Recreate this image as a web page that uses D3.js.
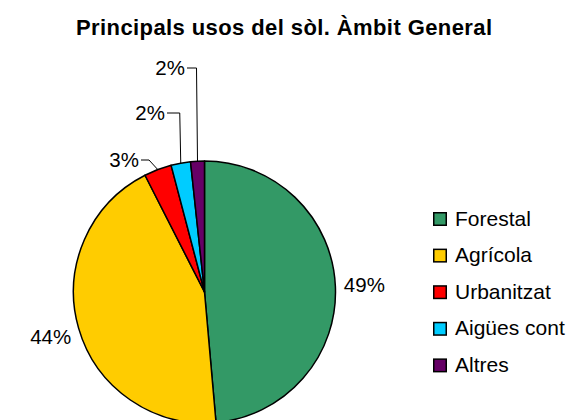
<!DOCTYPE html>
<html>
<head>
  <meta charset="utf-8">
  <title>Principals usos del sòl. Àmbit General</title>
  <style>
    body { margin: 0; background: #fff; }
    text { font-family: 'Liberation Sans', Arial, sans-serif; fill: #000; }
  </style>
</head>
<body>
  <div id="chart-container"></div>
  <script src="https://d3js.org/d3.v7.min.js"></script>
  <script>
    // data
    const categories = ['Forestal', 'Agrícola', 'Urbanitzat', 'Aigües cont', 'Altres'];
    const values = [48.6, 43.9, 3.4, 2.4, 1.7];
    const colors = ['#339966', '#FFCC00', '#FF0000', '#00CCFF', '#660066'];

    const width = 569;
    const height = 420;
    const cx = 204.5, cy = 292, radius = 131;

    const svg = d3.select('#chart-container')
      .append('svg')
      .attr('width', width)
      .attr('height', height);

    svg.append('text')
      .attr('x', 284)
      .attr('y', 35)
      .attr('text-anchor', 'middle')
      .attr('font-size', 22)
      .attr('font-weight', 'bold')
      .attr('textLength', 416)
      .attr('lengthAdjust', 'spacing')
      .text('Principals usos del sòl. Àmbit General');

    const data = categories.map((c, i) => ({ name: c, value: values[i], color: colors[i] }));
    const total = d3.sum(values);

    const pie = d3.pie().sort(null).value(d => d.value);
    const arcs = pie(data);
    const arc = d3.arc().innerRadius(0).outerRadius(radius);

    const g = svg.append('g').attr('transform', `translate(${cx},${cy})`);

    g.selectAll('path.slice')
      .data(arcs)
      .enter()
      .append('path')
      .attr('class', 'slice')
      .attr('d', arc)
      .attr('fill', d => d.data.color)
      .attr('stroke', '#000')
      .attr('stroke-width', 1.5)
      .attr('stroke-linejoin', 'round');

    const pct = d => Math.round(d.data.value / total * 100) + '%';

    // big slices: label placed outside along the mid angle
    const outer = d3.arc().innerRadius(160).outerRadius(160);
    g.selectAll('text.big')
      .data(arcs.filter(d => d.data.value > 10))
      .enter()
      .append('text')
      .attr('class', 'big')
      .attr('transform', d => `translate(${outer.centroid(d)})`)
      .attr('text-anchor', 'middle')
      .attr('dy', '0.36em')
      .attr('font-size', 20.5)
      .text(pct);

    // small slices: moved labels with leader lines (offsets from centre)
    const moved = { 'Urbanitzat': [-63.5, -132], 'Aigües cont': [-37.5, -179], 'Altres': [-17.5, -224] };
    const edge = d3.arc().innerRadius(radius).outerRadius(radius);
    const small = arcs.filter(d => moved[d.data.name]);

    g.selectAll('path.leader')
      .data(small)
      .enter()
      .append('path')
      .attr('class', 'leader')
      .attr('fill', 'none')
      .attr('stroke', '#000')
      .attr('stroke-width', 1)
      .attr('d', d => {
        const [lx, ly] = moved[d.data.name];
        const [ex, ey] = edge.centroid(d);
        const kx = d.data.name === 'Urbanitzat' ? lx + 8 : ex - 1;
        return `M${lx},${ly}H${kx}L${ex},${ey}`;
      });

    g.selectAll('text.small')
      .data(small)
      .enter()
      .append('text')
      .attr('class', 'small')
      .attr('x', d => moved[d.data.name][0] - 2)
      .attr('y', d => moved[d.data.name][1])
      .attr('dy', '0.36em')
      .attr('text-anchor', 'end')
      .attr('font-size', 20.5)
      .text(pct);

    // legend
    const legend = svg.append('g').attr('transform', 'translate(433,212)');
    const items = legend.selectAll('.legend-item')
      .data(data)
      .enter()
      .append('g')
      .attr('class', 'legend-item')
      .attr('transform', (d, i) => `translate(0,${i * 36.6})`);

    items.append('rect')
      .attr('x', 0.75)
      .attr('y', 0.75)
      .attr('width', 12.5)
      .attr('height', 12.5)
      .attr('fill', d => d.color)
      .attr('stroke', '#000')
      .attr('stroke-width', 1.5);

    items.append('text')
      .attr('x', 22)
      .attr('y', 13.5)
      .attr('font-size', 21)
      .text(d => d.name);
  </script>
</body>
</html>
